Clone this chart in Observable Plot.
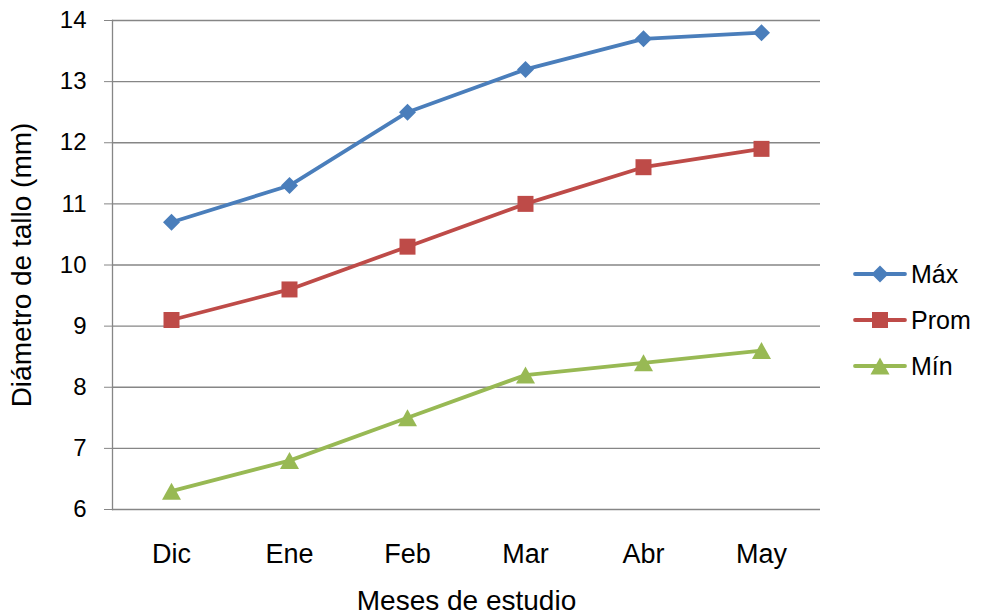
<!DOCTYPE html>
<html><head><meta charset="utf-8">
<script src="https://cdn.jsdelivr.net/npm/d3@7"></script>
<script src="https://cdn.jsdelivr.net/npm/@observablehq/plot@0.6"></script>
<style>
body{margin:0;background:#fff;font-family:"Liberation Sans",Arial,sans-serif}
#wrap{position:relative;width:982px;height:616px}
#legend{position:absolute;left:0;top:0}
</style>
</head><body><div id="wrap"></div>
<script>
const months = ["Dic","Ene","Feb","Mar","Abr","May"];
const maxVals = [10.7, 11.3, 12.5, 13.2, 13.7, 13.8];
const promVals = [9.1, 9.6, 10.3, 11.0, 11.6, 11.9];
const minVals = [6.3, 6.8, 7.5, 8.2, 8.4, 8.6];
const seriesNames = ["Máx", "Prom", "Mín"];
const yTicks = [6, 7, 8, 9, 10, 11, 12, 13, 14];
const xTitle = "Meses de estudio";
const yTitle = "Diámetro de tallo (mm)";

const colors = ["#4A7EBB", "#BE4B48", "#98B954"];
const symDiamond = {draw(c){ const r=8.5; c.moveTo(0,-r); c.lineTo(r,0); c.lineTo(0,r); c.lineTo(-r,0); c.closePath(); }};
const symSquare = {draw(c){ const r=8; c.rect(-r,-r,2*r,2*r); }};
const symTriangle = {draw(c){ const w=9.5, h=8.5; c.moveTo(0,-h); c.lineTo(w,h); c.lineTo(-w,h); c.closePath(); }};
const symbols = [symDiamond, symSquare, symTriangle];

const seriesVals = [maxVals, promVals, minVals];
const data = seriesNames.flatMap((s, i) => months.map((m, j) => ({series: s, month: m, value: seriesVals[i][j]})));

const marks = [
  Plot.gridY(yTicks, {stroke: "#868686", strokeOpacity: 1, strokeWidth: 1.3}),
  Plot.axisY(yTicks, {tickSize: 8, tickPadding: 18, tickFormat: d => String(d), stroke: "#868686", strokeOpacity: 1, fontSize: "24px", fill: "#000", label: null}),
  Plot.frame({anchor: "left", stroke: "#868686", strokeWidth: 1.3}),
  Plot.axisX({tickSize: 0, tickPadding: 34, fontSize: "27px", fill: "#000", label: null}),
  Plot.text([xTitle], {frameAnchor: "bottom", dy: 92, fontSize: "28px", fill: "#000", lineAnchor: "middle", textAnchor: "middle"}),
  Plot.text([yTitle], {frameAnchor: "left", dx: -90, rotate: -90, fontSize: "28px", fill: "#000", lineAnchor: "middle", textAnchor: "middle"})
];
seriesNames.forEach((s, i) => {
  const d = data.filter(r => r.series === s);
  marks.push(Plot.line(d, {x: "month", y: "value", stroke: colors[i], strokeWidth: 3.8, curve: "linear"}));
  marks.push(Plot.dot(d, {x: "month", y: "value", fill: colors[i], stroke: "none", symbol: symbols[i], r: 8}));
});

const chart = Plot.plot({
  width: 982, height: 616,
  marginLeft: 112, marginRight: 162, marginTop: 20, marginBottom: 107,
  style: {fontFamily: "'Liberation Sans', Arial, sans-serif", background: "#fff", fontSize: "24px"},
  x: {type: "band", domain: months, padding: 0, label: null},
  y: {domain: [6, 14], label: null},
  marks
});
const wrap = document.getElementById("wrap");
wrap.appendChild(chart);

// Legend
const lg = d3.select(wrap).append("svg").attr("id", "legend").attr("width", 982).attr("height", 616);
const legendY = [274, 320, 366];
seriesNames.forEach((s, i) => {
  const g = lg.append("g").attr("transform", `translate(880,${legendY[i]})`);
  g.append("line").attr("x1", -25).attr("x2", 25).attr("stroke", colors[i]).attr("stroke-width", 3.8).attr("stroke-linecap", "round");
  const p = d3.path(); symbols[i].draw(p);
  g.append("path").attr("d", p.toString()).attr("fill", colors[i]);
  g.append("text").attr("x", 31).attr("dy", "0.35em").attr("font-size", 25).attr("fill", "#000")
    .style("font-family", "'Liberation Sans', Arial, sans-serif").text(s);
});
</script>
</body></html>
